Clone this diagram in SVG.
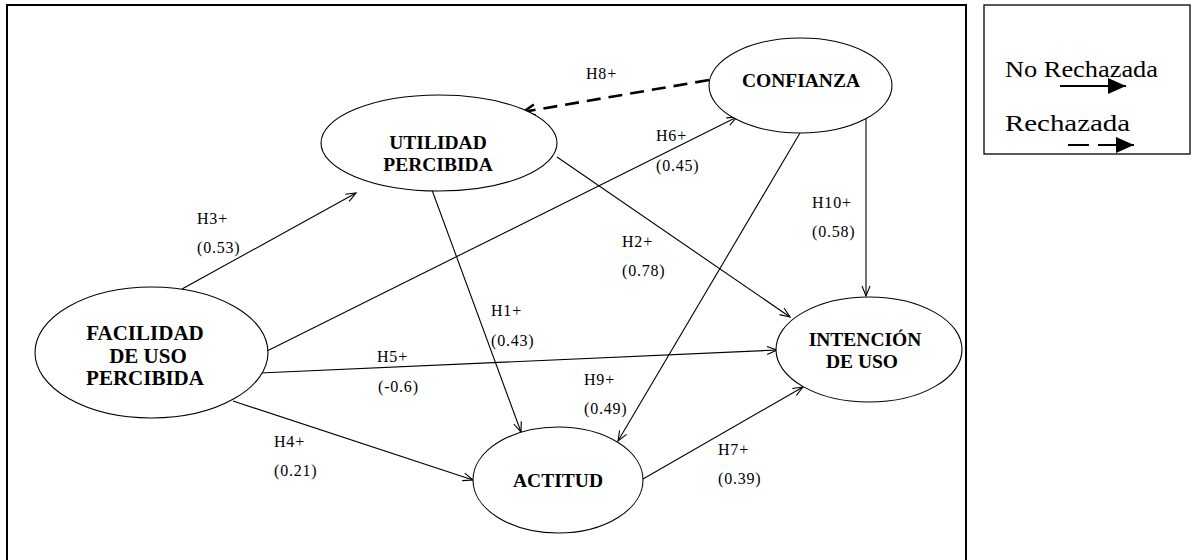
<svg xmlns="http://www.w3.org/2000/svg" width="1192" height="560" viewBox="0 0 1192 560">
<style>
.node ellipse{fill:#fff;stroke:#000;stroke-width:1.1}
.nt{font-family:"Liberation Serif","Times New Roman",serif;font-weight:bold;font-size:19.5px;text-anchor:middle;fill:#000}
.big{font-size:21px}
.lab{font-family:"Liberation Serif","Times New Roman",serif;font-size:16px;letter-spacing:0.8px;fill:#000}
.leg{font-family:"Liberation Serif","Times New Roman",serif;font-size:24px;fill:#000}
.c{fill:none;stroke:#000;stroke-width:1.1;marker-end:url(#open)}
.dash{fill:none;stroke:#000;stroke-width:2.6;stroke-dasharray:14 8;marker-end:url(#openThick)}
</style>
<defs>
<marker id="open" viewBox="0 0 12 10" refX="11" refY="5" markerWidth="12" markerHeight="10" markerUnits="userSpaceOnUse" orient="auto">
<path d="M1,1 L11,5 L1,9" fill="none" stroke="#000" stroke-width="1.1" stroke-dasharray="none"/>
</marker>
<marker id="openThick" viewBox="0 0 16 14" refX="14" refY="7" markerWidth="16" markerHeight="14" markerUnits="userSpaceOnUse" orient="auto">
<path d="M2,1.5 L14,7 L2,12.5" fill="none" stroke="#000" stroke-width="2.4" stroke-dasharray="none"/>
</marker>
<marker id="solidHead" viewBox="0 0 18 16" refX="18" refY="8" markerWidth="18" markerHeight="16" markerUnits="userSpaceOnUse" orient="auto">
<path d="M0,0 L18,8 L0,16 Z" fill="#000"/>
</marker>
</defs>

<g id="frame">
<rect x="7" y="5" width="959" height="570" fill="none" stroke="#000" stroke-width="2"/>
</g>

<g id="connectors">
<line id="h3" class="c" x1="182" y1="289" x2="356" y2="193"/>
<line id="h6" class="c" x1="265" y1="352" x2="737" y2="117"/>
<line id="h5" class="c" x1="260" y1="373" x2="777" y2="350"/>
<line id="h4" class="c" x1="233" y1="401" x2="473" y2="480"/>
<line id="h1" class="c" x1="432" y1="190" x2="521" y2="432"/>
<line id="h2" class="c" x1="557" y1="157" x2="790" y2="317"/>
<line id="h9" class="c" x1="800" y1="133" x2="618" y2="441"/>
<line id="h10" class="c" x1="866" y1="117" x2="866" y2="296"/>
<line id="h7" class="c" x1="643" y1="479" x2="803" y2="387"/>
<line id="h8" class="dash" x1="709" y1="80" x2="523" y2="112"/>
</g>

<g id="labels">
<text class="lab" x="586" y="79">H8+</text>
<text class="lab" x="656" y="141">H6+</text>
<text class="lab" x="656" y="171">(0.45)</text>
<text class="lab" x="197" y="224">H3+</text>
<text class="lab" x="197" y="253">(0.53)</text>
<text class="lab" x="622" y="247">H2+</text>
<text class="lab" x="622" y="276">(0.78)</text>
<text class="lab" x="491" y="316">H1+</text>
<text class="lab" x="491" y="346">(0.43)</text>
<text class="lab" x="584" y="385">H9+</text>
<text class="lab" x="584" y="414">(0.49)</text>
<text class="lab" x="812" y="208">H10+</text>
<text class="lab" x="812" y="237">(0.58)</text>
<text class="lab" x="377" y="362">H5+</text>
<text class="lab" x="378" y="392">(-0.6)</text>
<text class="lab" x="274" y="447">H4+</text>
<text class="lab" x="274" y="476">(0.21)</text>
<text class="lab" x="718" y="455">H7+</text>
<text class="lab" x="718" y="484">(0.39)</text>
</g>

<g id="confianza" class="node">
<ellipse cx="800.5" cy="85.5" rx="91.5" ry="47.5"/>
<text class="nt" x="801" y="87">CONFIANZA</text>
</g>
<g id="utilidad" class="node">
<ellipse cx="439" cy="143" rx="118" ry="48"/>
<text class="nt" x="438" y="149">UTILIDAD</text>
<text class="nt" x="438" y="171">PERCIBIDA</text>
</g>
<g id="facilidad" class="node">
<ellipse cx="151.5" cy="352.5" rx="116.5" ry="65.5"/>
<text class="nt big" x="145" y="340">FACILIDAD</text>
<text class="nt big" x="148" y="363">DE USO</text>
<text class="nt big" x="145" y="385">PERCIBIDA</text>
</g>
<g id="actitud" class="node">
<ellipse cx="558" cy="480" rx="85" ry="53"/>
<text class="nt" x="558" y="487">ACTITUD</text>
</g>
<g id="intencion" class="node">
<ellipse cx="869" cy="349.5" rx="93" ry="52.5"/>
<text class="nt" x="865" y="346">INTENCIÓN</text>
<text class="nt" x="862" y="368">DE USO</text>
</g>

<g id="legend">
<rect x="984" y="5" width="206" height="149" fill="none" stroke="#000" stroke-width="1.3"/>
<text class="leg" x="1005" y="77" textLength="153" lengthAdjust="spacingAndGlyphs">No Rechazada</text>
<line x1="1060" y1="86" x2="1126" y2="86" stroke="#000" stroke-width="2" marker-end="url(#solidHead)"/>
<text class="leg" x="1005" y="131" textLength="125" lengthAdjust="spacingAndGlyphs">Rechazada</text>
<line x1="1068" y1="145" x2="1134" y2="145" stroke="#000" stroke-width="2" stroke-dasharray="21 9" marker-end="url(#solidHead)"/>
</g>
</svg>
